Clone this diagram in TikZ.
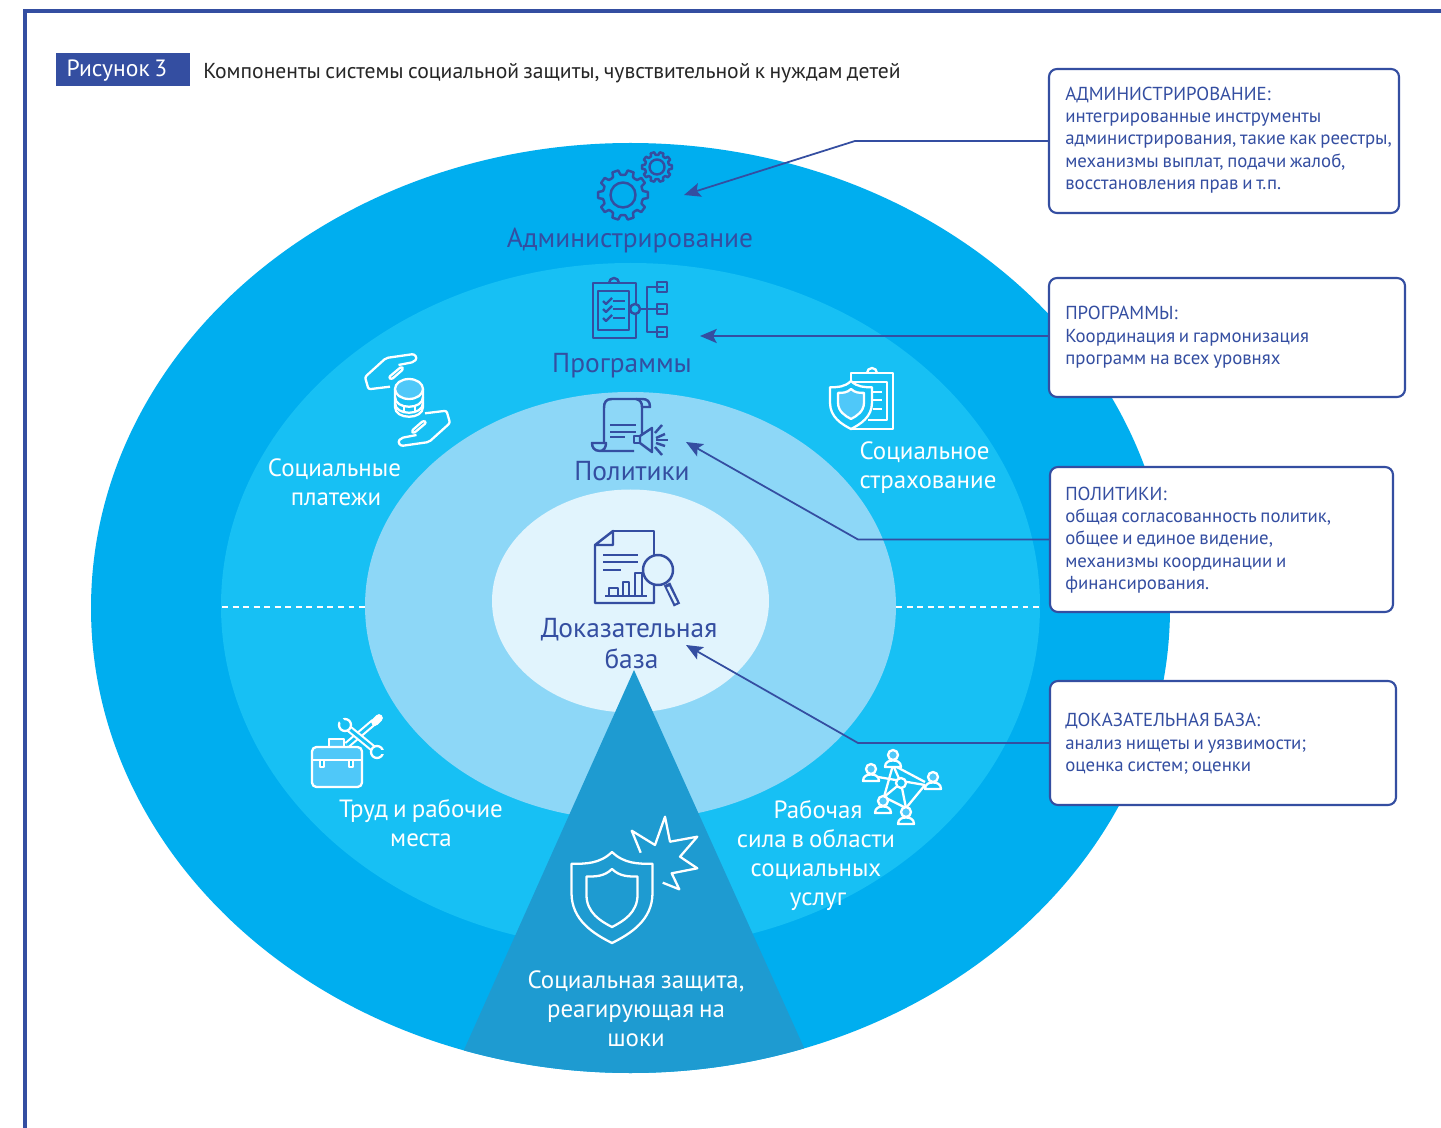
\documentclass[tikz,border=0pt]{standalone}
\usepackage{fontspec}
\setmainfont{PT Sans}[WordSpace=0.75]
\usepackage{tikz}
\usetikzlibrary{arrows.meta,positioning}

\definecolor{navyblue}{HTML}{344EA1}
\definecolor{outerblue}{HTML}{00AEEF}
\definecolor{midblue}{HTML}{17C0F4}
\definecolor{paleblue}{HTML}{8DD7F7}
\definecolor{coreblue}{HTML}{E1F4FD}
\definecolor{shockblue}{HTML}{1E9BD1}
\definecolor{iconfill}{HTML}{4FC8F9}

\tikzset{
	notebox/.style={draw=navyblue,line width=1.2pt,fill=white,rounded corners=4.5pt,inner sep=0pt},
	notetext/.style={text=navyblue,align=left,anchor=west,inner sep=0pt,font=\fontsize{10.7pt}{12.75pt}\selectfont},
	darklabel/.style={text=navyblue,align=center,inner sep=0pt,font=\fontsize{15.6pt}{17.6pt}\selectfont},
	whitelabel/.style={text=white,align=center,inner sep=0pt,font=\fontsize{14.2pt}{16.5pt}\selectfont},
	navyicon/.style={draw=navyblue,line width=1.4pt,line join=round},
	whiteicon/.style={draw=white,line width=1.3pt,line join=round},
	pointer/.style={draw=navyblue,line width=1pt,-{Stealth[length=9.5pt,width=8pt,inset=2pt]}},
	splitline/.style={draw=white,line width=1.6pt,dash pattern=on 3.4pt off 2.6pt},
	gearicon/.pic={
		\draw[navyicon] \foreach \a in {0,36,...,324} {
			(\a-18:20) -- (\a-11:20.5) -- (\a-7:25) -- (\a+7:25) -- (\a+11:20.5) -- (\a+18:20)
		};
		\draw[navyicon] (0,0) circle (12.5);
	},
	handicon/.pic={
		\draw[whiteicon,rounded corners=1.2pt] (-17.5,-13.3) -- (-39,-10.7) -- (-42.5,-23) -- (-21.5,-42) -- (6.5,-46) -- (9.5,-42) -- (6.5,-38) -- (-9,-35);
		\draw[whiteicon,rounded corners=1.2pt] (-6,-33.5) -- (-19,-22.5) -- (-16,-20.5) -- (-4,-31) -- cycle;
	},
}

\newcommand{\shieldat}[5]{
	\draw[#1,shift={(#2,#3)},xscale=#4,yscale=#5] (0,0) .. controls (.3,.13) and (.65,.13) .. (1,.13) -- (1,.45) .. controls (1,.75) and (.45,.9) .. (0,1) .. controls (-.45,.9) and (-1,.75) .. (-1,.45) -- (-1,.13) .. controls (-.65,.13) and (-.3,.13) .. (0,0) -- cycle;
}
\newcommand{\personat}[2]{
	\draw[whiteicon,fill=iconfill] (#1,#2) circle (5);
	\draw[whiteicon,fill=midblue] (#1-8,#2+12) .. controls (#1-8,#2+7) and (#1-4,#2+5.5) .. (#1,#2+5.5) .. controls (#1+4,#2+5.5) and (#1+8,#2+7) .. (#1+8,#2+12) -- cycle;
}

\begin{document}
\begin{tikzpicture}[x=0.02cm,y=-0.02cm]
	\useasboundingbox (0,0) rectangle (1441,1128);
	\fill[white] (0,0) rectangle (1441,1128);
	\draw[navyblue,line width=2.4pt] (1441,11) -- (25,11) -- (25,1128);

	\fill[outerblue] (630.5,608) ellipse (539.5 and 465);
	\fill[midblue] (630.5,606) ellipse (409.5 and 343);
	\fill[paleblue] (630.5,606) ellipse (265.5 and 214);
	\fill[coreblue] (630.5,601) ellipse (138.5 and 111.5);
	\begin{scope}
		\clip (630.5,608) ellipse (539.5 and 465);
		\fill[shockblue] (634,670) -- (441.6,1100) -- (827.5,1100) -- cycle;
	\end{scope}
	\path[splitline] (222,607) -- (365,607);
	\path[splitline] (896,607) -- (1040,607);

	\node[fill=navyblue,minimum width=134*0.02cm,minimum height=33*0.02cm,inner sep=0pt] (figtag) at (123,69.5) {};
	\node[text=white,inner sep=0pt,font=\fontsize{13.4pt}{16pt}\selectfont] (figtagtext) at (117,71) {Рисунок 3};
	\node[anchor=west,inner sep=0pt,text=black!85,font=\fontsize{12.3pt}{14pt}\selectfont] (figtitle) at (203,73) {Компоненты системы социальной защиты, чувствительной к нуждам детей};

	\node[notebox,minimum width=350*0.02cm,minimum height=144*0.02cm] (adminbox) at (1224,141) {};
	\node[notebox,minimum width=356*0.02cm,minimum height=119*0.02cm] (progbox) at (1227,337.5) {};
	\node[notebox,minimum width=343*0.02cm,minimum height=145*0.02cm] (polbox) at (1221.5,539.5) {};
	\node[notebox,minimum width=346*0.02cm,minimum height=124*0.02cm] (evidbox) at (1223,743) {};
	\node[notetext] (admintext) at (1065,140) {АДМИНИСТРИРОВАНИЕ:\\интегрированные инструменты\\администрирования, такие как реестры,\\механизмы выплат, подачи жалоб,\\восстановления прав  и т.п.};
	\node[notetext] (progtext) at (1065,337.5) {ПРОГРАММЫ:\\Координация и гармонизация\\программ на всех уровнях};
	\node[notetext] (poltext) at (1065,540) {ПОЛИТИКИ:\\общая согласованность политик,\\общее и единое видение,\\механизмы координации и\\финансирования.};
	\node[notetext] (evidtext) at (1065,744) {ДОКАЗАТЕЛЬНАЯ БАЗА:\\анализ нищеты и уязвимости;\\оценка систем; оценки};

	\node[darklabel] (adminlabel) at (630,240) {Администрирование};
	\node[darklabel] (proglabel) at (622,366) {Программы};
	\node[darklabel] (pollabel) at (632,471.5) {Политики};
	\node[darklabel] (evidlabel) at (629,643.5) {Доказательная\\\hspace*{0.1cm}база};
	\node[whitelabel] (paylabel) at (334.5,482.5) {Социальные\\\hspace*{0.06cm}платежи};
	\node[whitelabel,align=left] (insurlabel) at (928,468) {Социальное\\страхование};
	\node[whitelabel] (worklabel) at (421,823) {Труд и рабочие\\места};
	\node[whitelabel] (stafflabel) at (816,855.5) {\hspace*{0.08cm}Рабочая\\сила в области\\социальных\\\hspace*{0.08cm}услуг};
	\node[whitelabel] (shocklabel) at (636,1009) {Социальная защита,\\реагирующая на\\шоки};

	\coordinate (adminbend) at (855,141);
	\coordinate (admintip) at (684,195);
	\coordinate (progtip) at (700,336);
	\coordinate (polbend) at (858,539.5);
	\coordinate (poltip) at (686,442);
	\coordinate (evidbend) at (858,743);
	\coordinate (evidtip) at (686,645);
	\path[pointer] (adminbox.west) -- (adminbend) -- (admintip);
	\path[pointer] (progtip -| progbox.west) -- (progtip);
	\path[pointer] (polbox.west) -- (polbend) -- (poltip);
	\path[pointer] (evidbox.west) -- (evidbend) -- (evidtip);

	\pic at (623,195) {gearicon};
	\pic[scale=.6] at (657,167) {gearicon};

	\draw[navyicon] (593,283) rectangle (636,338);
	\draw[navyicon] (598,291) rectangle (629,330);
	\draw[navyicon] (609,283) arc (180:360:5);
	\foreach \cy in {301,309,318} {
		\draw[navyicon] (603,\cy) -- (606,\cy+3) -- (612,\cy-3);
		\draw[navyicon] (613,\cy) -- (625,\cy);
	}
	\draw[navyicon,fill=midblue] (635,309) circle (5);
	\draw[navyicon] (640,309) -- (664,309);
	\draw[navyicon] (664,287) -- (647,287) -- (647,332) -- (664,332);
	\foreach \cy in {287,309,332} {
		\draw[navyicon] (657,\cy-5) rectangle (667,\cy+5);
	}

	\draw[navyicon] (642,438) -- (642,407) -- (650,407) .. controls (650,401) and (647,399) .. (642,399) -- (612,399) .. controls (606,399) and (604,402) .. (604,408) -- (604,443);
	\draw[navyicon] (642,407) .. controls (642,402) and (640,400) .. (636,399);
	\draw[navyicon] (634,451) -- (600,451) .. controls (594,451) and (592,447) .. (592,443) -- (606,443) .. controls (606,447) and (604,451) .. (600,451);
	\draw[navyicon] (610,425) -- (636,425);
	\draw[navyicon] (610,432) -- (636,432);
	\draw[navyicon] (610,437) -- (625,437);
	\draw[navyicon,fill=paleblue] (634,436) rectangle (640,443);
	\draw[navyicon,fill=paleblue] (640,436) -- (652,428) -- (652,452) -- (640,443) -- cycle;
	\foreach \xa/\ya/\xb/\yb in {655/433/662/425,656/438/665/434,656/440/668/440,656/443/665/446,655/447/662/455} {
		\draw[navyicon] (\xa,\ya) -- (\xb,\yb);
	}

	\draw[navyicon] (613,531) -- (654,531) -- (654,555);
	\draw[navyicon] (654,585) -- (654,603) -- (595,603) -- (595,545) -- (613,531) -- (613,545) -- (595,545);
	\draw[navyicon] (603,555) -- (638,555);
	\draw[navyicon] (603,562) -- (638,562);
	\draw[navyicon] (603,570) -- (621,570);
	\draw[navyicon] (605,596) -- (647,596);
	\draw[navyicon] (609,596) rectangle (618,588);
	\draw[navyicon] (623,596) rectangle (629,582);
	\draw[navyicon] (635,596) rectangle (642,573);
	\draw[navyicon,line width=4pt] (667,584) -- (677,605);
	\draw[coreblue,line width=1.4pt] (668,587) -- (676,603);
	\draw[navyicon,fill=coreblue] (658,570) circle (15);

	\pic at (407.5,400) {handicon};
	\pic[rotate=180] at (407.5,400) {handicon};
	\draw[whiteicon] (395,389) -- (395,407) .. controls (395,420) and (423,420) .. (423,407) -- (423,389);
	\draw[whiteicon] (395,397) .. controls (395,410) and (423,410) .. (423,397);
	\draw[whiteicon] (395,403) .. controls (395,416) and (423,416) .. (423,403);
	\foreach \xa/\ya/\yb in {404/406/412,415/406/412} {
		\draw[whiteicon] (\xa,\ya) -- (\xa,\yb);
	}
	\draw[whiteicon,fill=iconfill] (409,389) ellipse (14 and 10);

	\draw[whiteicon] (867,382) -- (851,382) -- (851,373) -- (893,373) -- (893,429) -- (851,429);
	\draw[whiteicon] (855,382) -- (887,382) -- (887,420) -- (868,420);
	\draw[whiteicon] (867,373) arc (180:360:5);
	\foreach \cy in {392,400,409} {
		\draw[whiteicon] (873,\cy) -- (882,\cy);
	}
	\shieldat{whiteicon,fill=midblue}{851}{381}{21}{48}
	\shieldat{whiteicon,fill=iconfill}{851}{389}{13}{30}

	\draw[white,line width=4pt] (347,745) -- (374,722);
	\draw[midblue,line width=1.6pt] (347,745) -- (374,722);
	\draw[white,line width=4.4pt,line cap=round] (375,722) -- (379,718);
	\draw[white,line width=4pt] (347,727) -- (375,750);
	\draw[midblue,line width=1.6pt] (347,727) -- (375,750);
	\draw[whiteicon,fill=midblue] (345,725) circle (6);
	\draw[whiteicon,fill=midblue] (377,752) circle (6);
	\draw[midblue,line width=2.6pt] (345,725) -- (338,716);
	\draw[midblue,line width=2.6pt] (377,752) -- (386,752);
	\draw[whiteicon,fill=iconfill] (329,747) rectangle (344,739);
	\draw[whiteicon,fill=iconfill,rounded corners=2.5pt] (312,747) rectangle (362,787);
	\draw[whiteicon] (312,760) -- (362,760);
	\draw[whiteicon,fill=midblue] (320,760) rectangle (324,767);
	\draw[whiteicon,fill=midblue] (349,760) rectangle (353,767);

	\foreach \xa/\ya/\xb/\yb in {893/765/901/783,893/765/884/797,893/765/925/782,878/777/925/785,901/783/884/797,901/783/906/808,884/797/906/808,925/785/906/808} {
		\draw[white,line width=1.3pt] (\xa,\ya) -- (\xb,\yb);
	}
	\draw[whiteicon,fill=midblue] (901,783) circle (5);
	\personat{893}{755}
	\personat{871}{769}
	\personat{933}{777}
	\personat{883}{801}
	\personat{906}{812}

	\shieldat{whiteicon}{612}{852}{40.5}{91}
	\shieldat{whiteicon}{612}{869}{25.5}{58}
	\draw[whiteicon] (640.7,852.7) -- (631.7,830.7) -- (655,845) -- (665,816.7) -- (670,841.7) -- (697.3,836.7) -- (680,856.7) -- (697.3,868.3) -- (671.7,873.3) -- (679.3,889.3) -- (662.7,882.7);
\end{tikzpicture}
\end{document}
